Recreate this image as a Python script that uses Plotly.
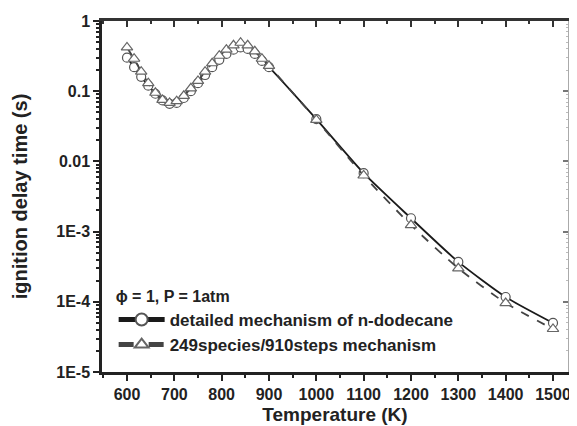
import plotly.graph_objects as go

# ---- data ----
T_low = [600, 615, 630, 645, 660, 675, 690, 705, 720, 735, 750, 765, 780, 795, 810, 825, 840, 855, 870, 885, 900]
T_high = [1000, 1100, 1200, 1300, 1400, 1500]

detailed_low = [0.30, 0.22, 0.16, 0.12, 0.092, 0.074, 0.066, 0.068, 0.080, 0.10, 0.13, 0.17, 0.22, 0.28, 0.34,
                0.39, 0.42, 0.40, 0.34, 0.27, 0.22]
detailed_high = [0.040, 0.0068, 1.55e-3, 3.7e-4, 1.17e-4, 5.0e-5]

reduced_low = [0.42, 0.29, 0.19, 0.13, 0.095, 0.075, 0.068, 0.072, 0.086, 0.11, 0.14, 0.19, 0.25, 0.32, 0.39,
               0.45, 0.49, 0.45, 0.37, 0.29, 0.23]
reduced_high = [0.039, 0.0063, 1.24e-3, 3.0e-4, 9.6e-5, 4.1e-5]

T_all = T_low + T_high
detailed = detailed_low + detailed_high
reduced = reduced_low + reduced_high

y_tickvals = [1, 0.1, 0.01, 1e-3, 1e-4, 1e-5]
y_ticktext = ["1", "0.1", "0.01", "1E-3", "1E-4", "1E-5"]
x_tickvals = [600, 700, 800, 900, 1000, 1100, 1200, 1300, 1400, 1500]

FONT = "Liberation Sans, Arial, sans-serif"
X_RANGE = [547.2, 1531.7]
Y_RANGE = [-5, 0]

fig = go.Figure()
fig.add_trace(go.Scatter(
    x=T_all, y=detailed, mode="lines+markers", name="detailed mechanism of n-dodecane",
    line=dict(color="#1a1a1a", width=1.8, shape="spline", smoothing=0.6),
    marker=dict(symbol="circle", size=9, color="white", line=dict(width=1.2, color="#555555")),
))
fig.add_trace(go.Scatter(
    x=T_all, y=reduced, mode="lines+markers", name="249species/910steps mechanism",
    xaxis="x2", yaxis="y2",
    line=dict(color="#444444", width=1.8, dash="dash", shape="spline", smoothing=0.6),
    marker=dict(symbol="triangle-up", size=10, color="white", line=dict(width=1.2, color="#666666")),
))

# page body has an 8px margin, so the figure is sized/offset to fill the 577x426 window
fig.update_layout(
    width=569, height=418,
    margin=dict(l=94, r=9, t=13, b=54),
    paper_bgcolor="white", plot_bgcolor="white",
    font=dict(family=FONT, size=16, color="#222222"),
    showlegend=True,
    legend=dict(
        x=0.025, y=0.259, xanchor="left", yanchor="top",
        bgcolor="rgba(0,0,0,0)", borderwidth=0,
        font=dict(family=FONT, size=17, color="#222222", weight="bold"),
        title=dict(text="ϕ = 1, P = 1atm", font=dict(family=FONT, size=16, weight="bold")),
        tracegroupgap=0, itemsizing="constant", itemwidth=46,
    ),
    xaxis=dict(
        range=X_RANGE, showgrid=False, zeroline=False, automargin=False,
        showline=True, linecolor="#222222", linewidth=2.5,
        tickmode="array", tickvals=x_tickvals,
        ticks="outside", ticklen=6, tickwidth=2, tickcolor="#222222",
        minor=dict(dtick=50, ticks="outside", ticklen=3, tickwidth=2, tickcolor="#222222"),
        tickfont=dict(family=FONT, size=16, weight="bold"),
        title=dict(text="Temperature (K)", font=dict(family=FONT, size=19, weight="bold"), standoff=6),
    ),
    xaxis2=dict(
        range=X_RANGE, overlaying="x", side="top", anchor="y", automargin=False,
        showgrid=False, zeroline=False, showticklabels=False,
        showline=True, linecolor="#333333", linewidth=2.5,
        tickmode="array", tickvals=x_tickvals,
        ticks="inside", ticklen=6, tickwidth=2, tickcolor="#333333",
        minor=dict(dtick=50, ticks="inside", ticklen=3, tickwidth=2, tickcolor="#333333"),
    ),
    yaxis=dict(
        type="log", range=Y_RANGE, showgrid=False, zeroline=False, automargin=False,
        showline=True, linecolor="#222222", linewidth=2.5,
        tickmode="array", tickvals=y_tickvals, ticktext=y_ticktext,
        ticks="outside", ticklen=6, tickwidth=2, tickcolor="#222222",
        minor=dict(dtick="D1", ticks="outside", ticklen=3, tickwidth=1.5, tickcolor="#222222"),
        tickfont=dict(family=FONT, size=16, weight="bold"),
        title=dict(text="ignition delay time (s)", font=dict(family=FONT, size=20, weight="bold"), standoff=24),
    ),
    yaxis2=dict(
        type="log", range=Y_RANGE, overlaying="y", side="right", anchor="x", automargin=False,
        showgrid=False, zeroline=False, showticklabels=False,
        showline=True, linecolor="#aaaaaa", linewidth=1.5,
        tickmode="array", tickvals=y_tickvals,
        ticks="inside", ticklen=5, tickwidth=2, tickcolor="#777777",
        minor=dict(dtick="D1", ticks="inside", ticklen=2, tickwidth=1, tickcolor="#bbbbbb"),
    ),
)

fig.write_html("out.html")
